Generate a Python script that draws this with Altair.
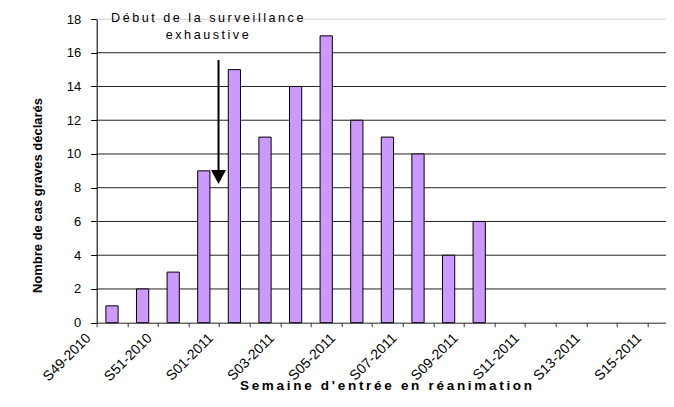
import json
import altair as alt
import pandas as pd

# ---------------- data ----------------
weeks = ["S49-2010", "S50-2010", "S51-2010", "S52-2010",
         "S01-2011", "S02-2011", "S03-2011", "S04-2011", "S05-2011",
         "S06-2011", "S07-2011", "S08-2011", "S09-2011", "S10-2011",
         "S11-2011", "S12-2011", "S13-2011", "S14-2011", "S15-2011"]
cases = [1, 2, 3, 9, 15, 11, 14, 17, 12, 11, 10, 4, 6, 0, 0, 0, 0, 0, 0]
shown_labels = weeks[::2]
y_ticks = [0, 2, 4, 6, 8, 10, 12, 14, 16, 18]
grid_values = [2, 4, 6, 8, 10, 12, 14, 16, 18]

annot_lines = ["Début de la surveillance", "exhaustive"]
annot_week = ["S52-2010", "S52-2010"]
annot_y = [18.06, 17.05]

arrow_week = ["S52-2010"]
arrow_top = [15.57]
arrow_bottom = [9.04]
arrow_head = [8.64]

FONT = "Liberation Sans"


def spaced(s):
    return "\u2009".join(list(s))


df = pd.DataFrame({"week": weeks, "cases": cases})
df_grid = pd.DataFrame({"g": grid_values})
df_txt = pd.DataFrame({"week": annot_week, "ty": annot_y,
                       "label": [spaced(t) for t in annot_lines]})
df_arrow = pd.DataFrame({"week": arrow_week, "y1": arrow_top, "y2": arrow_bottom,
                         "yh": arrow_head})

STEP_RANGE = 581.4
xscale = alt.Scale(domain=weeks, range=[0, STEP_RANGE], paddingInner=0.6, paddingOuter=0.3)
yscale = alt.Scale(domain=[0, 18], nice=False, zero=True)

label_expr = f"indexof({json.dumps(shown_labels)}, datum.value) >= 0 ? datum.value : ''"

x_axis = alt.Axis(
    title=spaced("Semaine d'entrée en réanimation"),
    titleFont=FONT, titleFontSize=13.5, titleFontWeight="bold", titleColor="black",
    titleX=288.8, titleY=67, titleAlign="center", titleBaseline="alphabetic",
    labelExpr=label_expr, labelAngle=315, labelAlign="right", labelBaseline="middle",
    labelFont=FONT, labelFontSize=14, labelColor="black", labelPadding=9,
    labelOffset=-8.5, labelOverlap=False,
    tickOffset=-STEP_RANGE / 19 / 2, tickSize=4, tickColor="#333333",
    domainColor="#333333", grid=False,
)

y_axis = alt.Axis(
    values=y_ticks, tickCount=30, format="d", title="Nombre de cas graves déclarés",
    titleFont=FONT, titleFontSize=13, titleFontWeight="bold", titleColor="black",
    titleAngle=270, titleX=-58.7, titleY=176, titleAlign="center", titleBaseline="middle",
    labelFont=FONT, labelFontSize=13, labelColor="black", labelPadding=10,
    labelOverlap=False,
    tickSize=6, tickColor="black", domainColor="black",
    grid=False,
)

grid = alt.Chart(df_grid).mark_rule(strokeWidth=1).encode(
    y=alt.Y("g:Q", scale=yscale, axis=y_axis),
    color=alt.condition("datum.g == 18", alt.value("#e0e0e0"), alt.value("#222222")),
)

bars = alt.Chart(df).transform_filter("datum.cases > 0").mark_bar(
    fill="#CC99FF", stroke="black", strokeWidth=1
).encode(
    x=alt.X("week:N", scale=xscale, axis=x_axis, sort=weeks),
    y=alt.Y("cases:Q", scale=yscale, axis=y_axis),
)

rule = alt.Chart(df_arrow).mark_rule(color="black", strokeWidth=2, xOffset=8.6).encode(
    x=alt.X("week:N", scale=xscale, bandPosition=1, sort=weeks),
    y=alt.Y("y1:Q", scale=yscale),
    y2="y2:Q",
)

head = alt.Chart(df_arrow).mark_point(
    shape="M-1,-0.93L1,-0.93L0,0.93Z", size=225, filled=True, color="black", opacity=1,
    xOffset=8.6,
).encode(
    x=alt.X("week:N", scale=xscale, bandPosition=1, sort=weeks),
    y=alt.Y("yh:Q", scale=yscale),
)

text = alt.Chart(df_txt).mark_text(
    font=FONT, fontSize=12.6, color="black", align="center", baseline="middle"
).encode(
    x=alt.X("week:N", scale=xscale, bandPosition=0.78, sort=weeks),
    y=alt.Y("ty:Q", scale=yscale),
    text="label:N",
)

chart = alt.layer(grid, bars, rule, head, text).properties(
    width=569.3, height=303.7,
    padding={"left": 88.7, "top": 11, "right": 0, "bottom": 70.3},
    autosize=alt.AutoSizeParams(type="none"),
).configure_view(stroke=None).configure(background="white")

chart.save("out.html", embed_options={"renderer": "svg", "actions": False})
